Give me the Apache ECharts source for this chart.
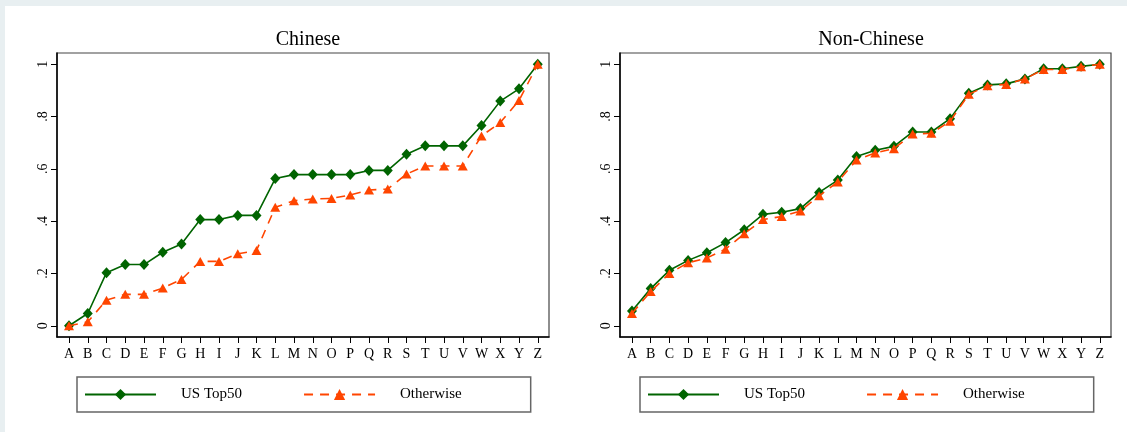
<!DOCTYPE html>
<html>
<head>
<meta charset="utf-8">
<title>Chinese vs Non-Chinese</title>
<script src="https://cdn.jsdelivr.net/npm/echarts@6/dist/echarts.min.js"></script>
<style>
  html, body { margin: 0; padding: 0; width: 1127px; height: 432px; overflow: hidden; background: #e8eff1; }
  #sheet { position: absolute; left: 5px; top: 6px; width: 1122px; height: 426px; background: #ffffff; }
  #chart { position: absolute; left: 0; top: 0; width: 1127px; height: 432px; }
</style>
</head>
<body>
<div id="sheet"></div>
<div id="chart"></div>
<script>
// Category labels along the horizontal axis
const categories = ['A','B','C','D','E','F','G','H','I','J','K','L','M','N','O','P','Q','R','S','T','U','V','W','X','Y','Z'];

// Vertical axis ticks
const yTickValues = [0, 0.2, 0.4, 0.6, 0.8, 1];
const yTickLabels = ['0', '.2', '.4', '.6', '.8', '1'];

// Panel titles and series names
const panelTitles = ['Chinese', 'Non-Chinese'];
const seriesNames = ['US Top50', 'Otherwise'];

// Chinese panel
const chineseTop50 = [0, 0.047, 0.203, 0.234, 0.234, 0.281, 0.313, 0.406, 0.406, 0.422, 0.422, 0.563, 0.578,
                      0.578, 0.578, 0.578, 0.594, 0.594, 0.656, 0.688, 0.688, 0.688, 0.766, 0.859, 0.906, 1];
const chineseOther = [0, 0.015, 0.098, 0.12, 0.12, 0.144, 0.177, 0.246, 0.246, 0.275, 0.288, 0.453, 0.478,
                      0.485, 0.487, 0.5, 0.519, 0.523, 0.58, 0.611, 0.611, 0.611, 0.726, 0.777, 0.861, 1];

// Non-Chinese panel
const nonChineseTop50 = [0.056, 0.142, 0.212, 0.25, 0.279, 0.318, 0.367, 0.426, 0.434, 0.448, 0.51, 0.557, 0.647,
                         0.671, 0.686, 0.741, 0.741, 0.792, 0.889, 0.921, 0.925, 0.944, 0.983, 0.983, 0.992, 1];
const nonChineseOther = [0.047, 0.131, 0.2, 0.241, 0.259, 0.293, 0.352, 0.406, 0.418, 0.439, 0.497, 0.55, 0.634,
                         0.661, 0.677, 0.733, 0.736, 0.782, 0.885, 0.918, 0.923, 0.944, 0.98, 0.98, 0.99, 1];

const SERIF = "'Liberation Serif', 'Times New Roman', serif";
const GREEN = '#006400';
const ORANGE = '#ff4500';
const catIdx = categories.map((_, i) => i);
const pairs = vals => vals.map((v, i) => [i, v]);

function xAxisFor(gi) {
  return {
    type: 'value', gridIndex: gi, min: -0.64, max: 25.6,
    axisLine: { show: true, onZero: false, lineStyle: { color: '#000', width: 1.5 } },
    axisTick: { show: true, length: 6, customValues: catIdx, lineStyle: { color: '#000', width: 1 } },
    axisLabel: {
      customValues: catIdx, margin: 10, color: '#000', fontFamily: SERIF, fontSize: 14,
      formatter: v => categories[Math.round(v)]
    },
    splitLine: { show: false }
  };
}

function yAxisFor(gi) {
  return {
    type: 'value', gridIndex: gi, min: -0.043, max: 1.043,
    axisLine: { show: true, onZero: false, lineStyle: { color: '#000', width: 1.5 } },
    axisTick: { show: true, length: 6, customValues: yTickValues, lineStyle: { color: '#000', width: 1 } },
    axisLabel: {
      customValues: yTickValues, rotate: 90, margin: 7, color: '#000', fontFamily: SERIF, fontSize: 14,
      formatter: v => yTickLabels[yTickValues.findIndex(t => Math.abs(t - v) < 1e-6)]
    },
    splitLine: { show: false }
  };
}

function top50Series(gi, vals) {
  return {
    name: seriesNames[0], type: 'line', xAxisIndex: gi, yAxisIndex: gi, data: pairs(vals),
    symbol: 'diamond', symbolSize: [10, 11], showAllSymbol: true,
    lineStyle: { color: GREEN, width: 1.6 }, itemStyle: { color: GREEN },
    z: 2, animation: false
  };
}

function otherSeries(gi, vals) {
  return {
    name: seriesNames[1], type: 'line', xAxisIndex: gi, yAxisIndex: gi, data: pairs(vals),
    symbol: 'triangle', symbolSize: [10, 9], showAllSymbol: true,
    lineStyle: { color: ORANGE, width: 1.6, type: [9, 7] }, itemStyle: { color: ORANGE },
    z: 3, animation: false
  };
}

function legendAt(left) {
  return {
    left: left, top: 377, orient: 'horizontal',
    data: seriesNames,
    padding: [10, 69, 10, 7],
    borderColor: '#666', borderWidth: 1.5, borderRadius: 0,
    itemWidth: 71, itemHeight: 14, itemGap: 61,
    textStyle: { fontFamily: SERIF, fontSize: 15, color: '#000', padding: [0, 0, 0, 20] },
    selectedMode: false
  };
}

const chart = echarts.init(document.getElementById('chart'), null, { renderer: 'canvas' });
chart.setOption({
  backgroundColor: 'transparent',
  animation: false,
  title: [
    { text: panelTitles[0], left: 303, top: 25, textAlign: 'center',
      textStyle: { fontFamily: SERIF, fontSize: 20, fontWeight: 'normal', color: '#000' } },
    { text: panelTitles[1], left: 866, top: 25, textAlign: 'center',
      textStyle: { fontFamily: SERIF, fontSize: 20, fontWeight: 'normal', color: '#000' } }
  ],
  grid: [
    { left: 57, top: 53, width: 492, height: 284, show: true, borderColor: '#444', borderWidth: 1.2, backgroundColor: '#fff' },
    { left: 620, top: 53, width: 491, height: 284, show: true, borderColor: '#444', borderWidth: 1.2, backgroundColor: '#fff' }
  ],
  xAxis: [xAxisFor(0), xAxisFor(1)],
  yAxis: [yAxisFor(0), yAxisFor(1)],
  legend: [legendAt(77), legendAt(640)],
  series: [
    top50Series(0, chineseTop50),
    otherSeries(0, chineseOther),
    top50Series(1, nonChineseTop50),
    otherSeries(1, nonChineseOther)
  ]
});
</script>
</body>
</html>
